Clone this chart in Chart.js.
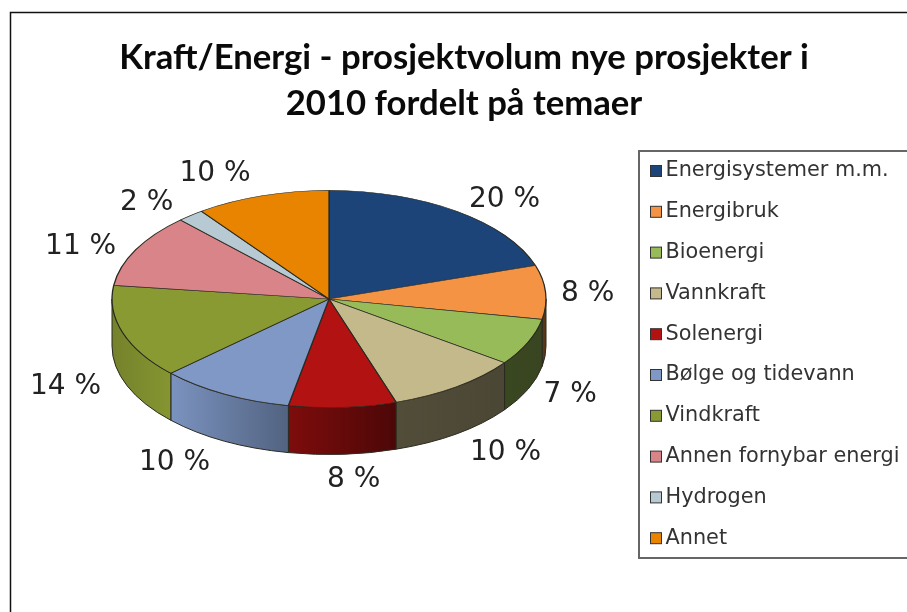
<!DOCTYPE html>
<html><head><meta charset="utf-8">
<style>html,body{margin:0;padding:0;background:#fff}#wrap{width:907px;height:612px}canvas{display:block;filter:blur(.55px)}</style>
<script src="https://cdn.jsdelivr.net/npm/chart.js@4"></script>
</head><body><div id="wrap"><canvas id="c" width="907" height="612"></canvas></div>
<script>
const titleLines = ['Kraft/Energi - prosjektvolum nye prosjekter i', '2010 fordelt på temaer'];
const categories = ['Energisystemer m.m.', 'Energibruk', 'Bioenergi', 'Vannkraft', 'Solenergi', 'Bølge og tidevann', 'Vindkraft', 'Annen fornybar energi', 'Hydrogen', 'Annet'];
const values = [20, 8, 7, 10, 8, 10, 14, 11, 2, 10];
const colors = ['#1c4478', '#f59344', '#98bb59', '#c4b98a', '#b31212', '#7f98c6', '#8a9a33', '#d98488', '#b7c9d3', '#e88400'];
const labelOffsets = [[48,-12],[42,2],[42,53],[49,66],[11,72],[-50,69],[-57,54],[-55,-3],[-44,-13],[-47,-22]];
const wallShades = [[0,.85],[.134,.97],[.4,.66],[.41,.7],[.66,.42],[1,.37]];

const CX = 329, CY = 299, RX = 217, SQUASH = 0.5, DEPTH = 47;
const LINE = '#2a2a20';

function shade(hex, f) {
  const n = parseInt(hex.slice(1), 16);
  return `rgb(${(n >> 16 & 255) * f | 0},${(n >> 8 & 255) * f | 0},${(n & 255) * f | 0})`;
}

const pie3d = {
  id: 'pie3d',
  afterLayout(chart) {
    Object.assign(chart.chartArea, {left: CX - RX, right: CX + RX, top: CY - RX, bottom: CY + RX, width: 2 * RX, height: 2 * RX});
  },
  beforeDraw(chart) {
    const {ctx} = chart;
    ctx.save();
    ctx.strokeStyle = '#111';
    ctx.lineWidth = 1.5;
    ctx.beginPath();
    ctx.moveTo(10.5, 612); ctx.lineTo(10.5, 12.5); ctx.lineTo(907, 12.5);
    ctx.stroke();
    ctx.restore();
  },
  beforeDatasetsDraw(chart) {
    const {ctx} = chart;
    const arcs = chart.getDatasetMeta(0).data;
    const ry = RX * SQUASH;
    ctx.save();
    arcs.forEach((a, i) => {
      const s = Math.max(a.startAngle, 0), e = Math.min(a.endAngle, Math.PI);
      if (e <= s) return;
      const g = ctx.createLinearGradient(CX - RX, 0, CX + RX, 0);
      wallShades.forEach(st => g.addColorStop(st[0], shade(colors[i], st[1])));
      ctx.beginPath();
      ctx.ellipse(CX, CY, RX, ry, 0, s, e);
      ctx.ellipse(CX, CY + DEPTH, RX, ry, 0, e, s, true);
      ctx.closePath();
      ctx.fillStyle = g;
      ctx.strokeStyle = LINE;
      ctx.lineWidth = 1;
      ctx.fill();
      ctx.stroke();
    });
    ctx.restore();
    ctx.save();
    ctx.translate(CX, CY);
    ctx.scale(1, SQUASH);
    ctx.translate(-CX, -CY);
  },
  afterDatasetsDraw(chart) {
    const {ctx} = chart;
    ctx.restore();
    const arcs = chart.getDatasetMeta(0).data;
    ctx.save();
    ctx.font = '28px "DejaVu Sans"';
    ctx.fillStyle = '#222';
    ctx.textAlign = 'center';
    ctx.textBaseline = 'middle';
    arcs.forEach((a, i) => {
      const mid = (a.startAngle + a.endAngle) / 2;
      const x = CX + RX * Math.cos(mid) + labelOffsets[i][0];
      const y = CY + RX * SQUASH * Math.sin(mid) + labelOffsets[i][1];
      ctx.fillText(values[i] + ' %', x, y);
    });
    ctx.strokeStyle = '#666';
    ctx.lineWidth = 2;
    ctx.strokeRect(639, 151, 290, 407);
    ctx.font = '20.8px "DejaVu Sans"';
    ctx.textAlign = 'left';
    categories.forEach((name, i) => {
      const y = 171 + i * 40.8;
      ctx.fillStyle = colors[i];
      ctx.fillRect(650.5, y - 5.5, 11, 11);
      ctx.strokeStyle = '#333';
      ctx.lineWidth = 1;
      ctx.strokeRect(650.5, y - 5.5, 11, 11);
      ctx.fillStyle = '#333';
      ctx.fillText(name, 665.5, y);
    });
    ctx.restore();
  }
};

new Chart(document.getElementById('c'), {
  type: 'pie',
  data: {labels: categories, datasets: [{data: values, backgroundColor: colors, borderColor: LINE, borderWidth: 1.3, radius: RX, clip: false}]},
  options: {
    responsive: false,
    animation: false,
    layout: {padding: {left: 21, right: 0, top: 0, bottom: 0}},
    events: [],
    plugins: {
      legend: {display: false},
      tooltip: {enabled: false},
      title: {display: true, text: titleLines, color: '#0a0a0a', align: 'center', padding: {top: 35, bottom: 0},
        font: {family: 'Lato', weight: 'bold', size: 34.7, lineHeight: 46 / 34.7}}
    }
  },
  plugins: [pie3d]
});
</script></body></html>
